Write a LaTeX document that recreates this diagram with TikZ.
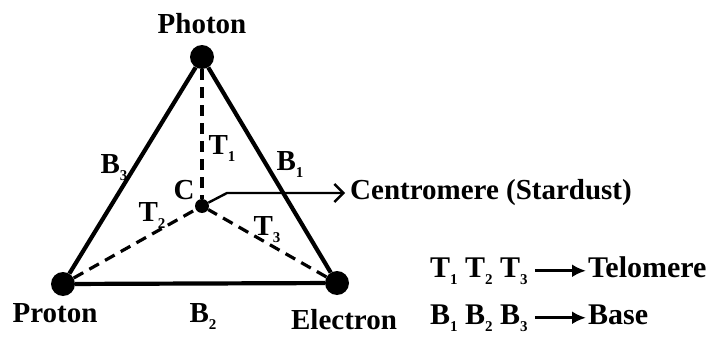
\documentclass[tikz,border=0pt]{standalone}
\usepackage{fontspec}
\setmainfont{Liberation Serif}
\usepackage{tikz}
\usetikzlibrary{arrows.meta}

% small lowered index
\newcommand{\idx}[1]{\raisebox{-7pt}{\fontsize{15}{15}\selectfont #1}}

\begin{document}
\begin{tikzpicture}[x=1pt,y=-1pt,
  % dots at the corners and in the middle
  corner/.style={circle,fill=black,minimum size=24pt,inner sep=0pt},
  mid/.style={circle,fill=black,minimum size=14pt,inner sep=0pt},
  lbl/.style={font=\bfseries\fontsize{29}{34}\selectfont,inner sep=0pt},
  big/.style={lbl,font=\bfseries\fontsize{30}{34}\selectfont,anchor=base west},
  side/.style={draw=black,line width=4.2pt},
  tel/.style={draw=black,line width=3.2pt,dash pattern=on 11pt off 7pt},
  pointer/.style={draw=black,line width=2.4pt,-{Straight Barb[length=9pt,width=18pt]}},
  key/.style={draw=black,line width=3.2pt,-{Latex[length=14pt,width=13pt]}}
]
\useasboundingbox (0,0) rectangle (724,340);

\node[corner] (ph) at (202, 57) {};   % top
\node[corner] (pr) at ( 63,284) {};   % left
\node[corner] (el) at (337,283) {};   % right
\node[mid]    (c)  at (202,206) {};   % centre

% bases
\draw[side] (ph)--(el);
\draw[side] (el)--(pr);
\draw[side] (pr)--(ph);

% telomeres
\draw[tel] (ph)--(c);
\draw[tel] (pr)--(c);
\draw[tel] (el)--(c);

\node[lbl,anchor=base] (phl) at (202, 33) {Photon};
\node[lbl,anchor=base] (prl) at ( 55,322) {Proton};
\node[lbl,anchor=base] (ell) at (344,329) {Electron};

\node[lbl,anchor=base] (b1) at (290,170) {B\idx{1}};
\node[lbl,anchor=base] (b2) at (203,322) {B\idx{2}};
\node[lbl,anchor=base] (b3) at (114,173) {B\idx{3}};
\node[lbl,anchor=base] (t1) at (222,154) {T\idx{1}};
\node[lbl,anchor=base] (t2) at (152,221) {T\idx{2}};
\node[lbl,anchor=base] (t3) at (267,235) {T\idx{3}};
\node[lbl,anchor=base] (cl) at (184,199) {C};

\node[lbl,inner xsep=5pt,anchor=west] (cen) at (345,193) {Centromere (Stardust)};
\coordinate (bend) at (227,193);
\draw[pointer] (c)--(bend)--(cen.west);

% legend
\node[big] (tk) at (430,277) {T\idx{1} T\idx{2} T\idx{3}};
\node[big] (tv) at (588,277) {Telomere};
\node[big] (bk) at (430,324) {B\idx{1} B\idx{2} B\idx{3}};
\node[big] (bv) at (588,324) {Base};
\draw[key] (tk.east) ++(7,0) coordinate (ta) (ta) -- ([xshift=-2pt]tv.west |- ta);
\draw[key] (bk.east) ++(7,0) coordinate (ba) (ba) -- ([xshift=-2pt]bv.west |- ba);

\end{tikzpicture}
\end{document}
